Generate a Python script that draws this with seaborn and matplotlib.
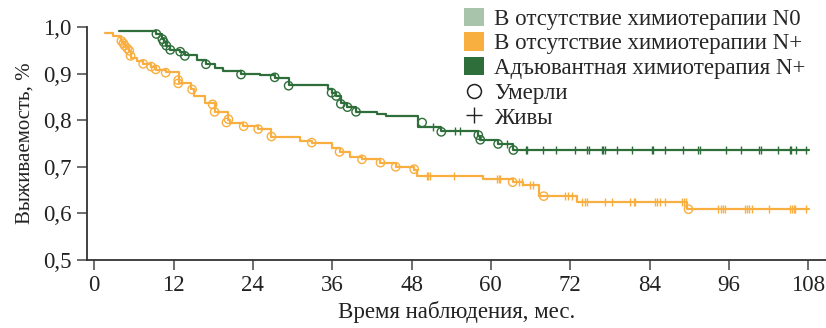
import numpy as np
import seaborn as sns
import matplotlib.pyplot as plt
from matplotlib.patches import Patch
from matplotlib.lines import Line2D

# цвета групп
C_N0 = '#A8C5AC'
C_NPLUS = '#F9AE40'
C_ADJ = '#2E6E3A'

# Без химиотерапии N+ : ступенчатая кривая (время, выживаемость)
or_t = [1.6, 2.9, 4.1, 4.4, 4.6, 5.0, 5.3, 5.5, 5.6, 6.5, 7.4, 8.6, 9.3, 10.8,
        12.85, 14.7, 15.1, 16.75, 18.3, 20.3, 20.6, 22.5, 24.8, 26.8, 31.1,
        32.9, 35.9, 37.1, 38.7, 40.5, 43.3, 45.6, 48.4, 48.8, 58.8, 63.3,
        64.9, 67.3, 73.0, 89.7, 108.2]
or_s = [0.988, 0.981, 0.970, 0.965, 0.960, 0.954, 0.949, 0.938, 0.934, 0.927,
        0.920, 0.914, 0.908, 0.903, 0.879, 0.866, 0.853, 0.836, 0.817, 0.800,
        0.793, 0.787, 0.781, 0.764, 0.755, 0.751, 0.741, 0.731, 0.721, 0.716,
        0.708, 0.700, 0.694, 0.681, 0.673, 0.667, 0.660, 0.637, 0.624, 0.610,
        0.610]
# умершие (кружки)
or_dead_t = [4.1, 4.4, 4.6, 5.0, 5.3, 5.5, 7.4, 8.6, 9.3, 10.8, 12.7, 12.7,
             14.8, 17.9, 18.2, 20.0, 20.3, 22.6, 24.8, 26.8, 32.9, 37.1, 40.5,
             43.3, 45.6, 48.4, 63.3, 68.0, 89.9]
or_dead_s = [0.970, 0.965, 0.960, 0.954, 0.949, 0.938, 0.921, 0.915, 0.909,
             0.902, 0.886, 0.879, 0.866, 0.834, 0.818, 0.795, 0.802, 0.787,
             0.781, 0.765, 0.752, 0.732, 0.716, 0.709, 0.700, 0.695, 0.667,
             0.637, 0.609]
# живые (цензурированные)
or_cens_t = [50.3, 50.5, 50.8, 54.4, 60.9, 61.2, 61.4, 64.3, 64.7, 65.9, 66.3,
             71.2, 71.7, 72.2, 73.8, 74.3, 74.5, 77.3, 78.3, 81.0, 81.6, 81.8,
             84.9, 85.2, 85.6, 86.4, 88.9, 89.2, 89.5, 94.4, 94.8, 95.1, 95.4,
             98.5, 98.8, 99.1, 99.5, 102.1, 105.2, 105.5, 105.8, 106.0, 107.7]

# Адъювантная химиотерапия N+
gr_t = [3.8, 9.4, 10.3, 10.5, 10.9, 11.5, 13.0, 13.7, 15.5, 16.9, 18.3, 19.5,
        22.2, 25.0, 27.3, 29.4, 35.3, 35.9, 36.6, 37.3, 38.3, 39.6, 42.7, 44.2,
        49.0, 52.5, 58.1, 58.4, 61.1, 63.4, 108.2]
gr_s = [0.992, 0.985, 0.975, 0.968, 0.960, 0.951, 0.946, 0.939, 0.930, 0.921,
        0.912, 0.905, 0.899, 0.896, 0.891, 0.876, 0.866, 0.859, 0.851, 0.836,
        0.828, 0.818, 0.813, 0.809, 0.786, 0.776, 0.767, 0.757, 0.748, 0.735,
        0.735]
gr_dead_t = [9.4, 10.3, 10.5, 10.9, 11.5, 13.0, 13.7, 16.9, 22.2, 27.3, 29.4,
             35.9, 36.6, 37.3, 38.3, 39.6, 49.6, 52.5, 58.1, 58.4, 61.1, 63.4]
gr_dead_s = [0.985, 0.974, 0.968, 0.960, 0.951, 0.947, 0.938, 0.920, 0.898,
             0.892, 0.874, 0.859, 0.852, 0.835, 0.828, 0.818, 0.795, 0.775,
             0.768, 0.758, 0.749, 0.736]
gr_cens_t = [51.2, 54.6, 55.3, 62.5, 65.3, 65.4, 67.9, 69.9, 72.7, 74.5, 74.8,
             76.8, 77.0, 77.3, 79.1, 81.4, 84.4, 84.6, 86.3, 89.1, 91.4, 91.7,
             95.6, 97.9, 100.5, 100.8, 103.5, 105.2, 105.4, 106.2, 107.7]

x_ticks = [0, 12, 24, 36, 48, 60, 72, 84, 96, 108]
y_ticks = [0.5, 0.6, 0.7, 0.8, 0.9, 1.0]
y_labels = ['0,5', '0,6', '0,7', '0,8', '0,9', '1,0']

legend_labels = ['В отсутствие химиотерапии N0', 'В отсутствие химиотерапии N+',
                 'Адъювантная химиотерапия N+', 'Умерли', 'Живы']


def step_value(t_steps, s_steps, t):
    idx = np.searchsorted(t_steps, t, side='right') - 1
    return np.array(s_steps)[idx]


sns.set_style('ticks')
plt.rcParams['font.family'] = ['Liberation Serif', 'DejaVu Serif']

fig = plt.figure(figsize=(8.26, 3.28), dpi=100)
ax = fig.add_axes([87 / 826, 68 / 328, 739 / 826, 233 / 328])

for t, s, dt, ds, ct, col in [(or_t, or_s, or_dead_t, or_dead_s, or_cens_t, C_NPLUS),
                              (gr_t, gr_s, gr_dead_t, gr_dead_s, gr_cens_t, C_ADJ)]:
    sns.lineplot(x=t, y=s, ax=ax, color=col, linewidth=1.6, drawstyle='steps-post',
                 estimator=None, sort=False)
    sns.scatterplot(x=dt, y=ds, ax=ax, marker='o', s=36, facecolors='none',
                    edgecolors=col, linewidth=1.0, zorder=3)
    sns.scatterplot(x=ct, y=step_value(t, s, ct), ax=ax, marker='|', s=40,
                    color=col, linewidth=1.0, zorder=3)

ax.set_xlim(-1.1, 110.7)
ax.set_ylim(0.5, 1.0)
ax.set_xticks(x_ticks)
ax.set_yticks(y_ticks)
ax.set_yticklabels(y_labels)
ax.tick_params(axis='both', labelsize=16.5, length=7, width=1.2, color='#555555',
               labelcolor='#222222')
ax.tick_params(axis='y', pad=4)
for side in ['left', 'bottom']:
    ax.spines[side].set_linewidth(1.3)
    ax.spines[side].set_color('#333333')
sns.despine(ax=ax)
ax.spines['left'].set_bounds(0.5, 1.0)
ax.set_xlabel('Время наблюдения, мес.', fontsize=16.5, color='#222222', labelpad=4)
ax.set_ylabel('Выживаемость, %', fontsize=15, color='#222222', labelpad=6)

handles = [Patch(facecolor=C_N0, edgecolor='none'),
           Patch(facecolor=C_NPLUS, edgecolor='none'),
           Patch(facecolor=C_ADJ, edgecolor='none'),
           Line2D([], [], linestyle='none', marker='o', markersize=10,
                  markerfacecolor='white', markeredgecolor='#222222', markeredgewidth=1.1),
           Line2D([], [], linestyle='none', marker='+', markersize=11,
                  markeredgecolor='#222222', markeredgewidth=1.0)]
fig.legend(handles, legend_labels, loc='upper left', bbox_to_anchor=(455 / 826, 1.005),
           frameon=False, fontsize=16.5, handlelength=0.85, handleheight=0.85,
           handletextpad=0.45, labelspacing=0.12, borderaxespad=0)

fig.savefig('out.png', dpi=100)
